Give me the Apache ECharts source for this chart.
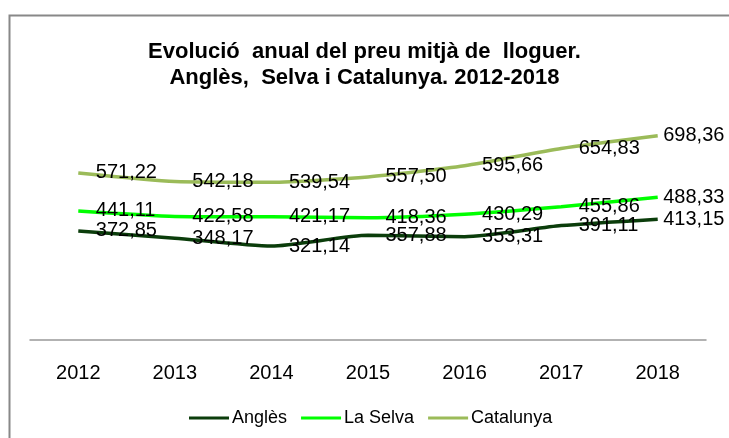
<!DOCTYPE html>
<html>
<head>
<meta charset="utf-8">
<script src="https://cdn.jsdelivr.net/npm/echarts@6/dist/echarts.min.js"></script>
<style>
html,body{margin:0;padding:0;background:#fff;}
#chart{width:729px;height:438px;}
</style>
</head>
<body>
<div id="chart"></div>
<script>
// anys (eix x)
var anys = ['2012', '2013', '2014', '2015', '2016', '2017', '2018'];
// preu mitjà del lloguer
var noms = ['Anglès', 'La Selva', 'Catalunya'];
var angles = [372.85, 348.17, 321.14, 357.88, 353.31, 391.11, 413.15];
var laSelva = [441.11, 422.58, 421.17, 418.36, 430.29, 455.86, 488.33];
var catalunya = [571.22, 542.18, 539.54, 557.50, 595.66, 654.83, 698.36];

var colors = ['#0b3d0b', '#00ff00', '#9bbb59'];

function fmt(v) {
	return v.toFixed(2).replace('.', ',');
}

// l'etiqueta del darrer any va més a prop del punt
function buildData(arr) {
	var res = [];
	for (var i = 0; i < arr.length; i++) {
		if (i == arr.length - 1) {
			res.push({value: arr[i], label: {distance: 5}});
		} else {
			res.push(arr[i]);
		}
	}
	return res;
}

function Serie(nom, arr, color) {
	this.name = nom;
	this.type = 'line';
	this.data = buildData(arr);
	this.smooth = 0.2;
	this.symbol = 'circle';
	this.symbolSize = 1;
	this.color = color;
	this.itemStyle = {color: 'rgba(0,0,0,0)'};
	this.lineStyle = {width: 3.5, color: color};
	this.label = {
		show: true,
		position: 'right',
		distance: 17,
		color: '#000',
		fontFamily: 'Liberation Sans, Arial, sans-serif',
		fontSize: 20,
		formatter: function(p) { return fmt(p.value); }
	};
}

var legendData = [];
for (var i = 0; i < noms.length; i++) {
	legendData.push({name: noms[i], itemStyle: {color: colors[i]}});
}

var myChart = echarts.init(document.getElementById('chart'));
var option = {
	animation: false,
	backgroundColor: '#fff',
	title: {
		text: 'Evolució  anual del preu mitjà de  lloguer.\nAnglès,  Selva i Catalunya. 2012-2018',
		left: 'center',
		top: 34,
		textStyle: {
			fontFamily: 'Liberation Sans, Arial, sans-serif',
			fontSize: 22,
			fontWeight: 'bold',
			color: '#000',
			lineHeight: 26
		}
	},
	graphic: [{
		type: 'rect',
		left: 7,
		top: 13,
		shape: {width: 740, height: 440},
		style: {fill: 'none', stroke: '#888', lineWidth: 2}
	}],
	legend: {
		data: legendData,
		bottom: 6,
		left: 184,
		icon: 'rect',
		itemWidth: 40,
		itemHeight: 3,
		itemGap: 14,
		textStyle: {
			fontFamily: 'Liberation Sans, Arial, sans-serif',
			fontSize: 18,
			color: '#000',
			padding: [0, 0, 0, -2]
		}
	},
	grid: {
		left: 30,
		right: 23,
		top: 106,
		bottom: 98
	},
	xAxis: {
		type: 'category',
		data: anys,
		boundaryGap: true,
		axisLine: {lineStyle: {color: '#999', width: 1.5}},
		axisTick: {show: false},
		axisLabel: {
			margin: 23,
			color: '#000',
			fontFamily: 'Liberation Sans, Arial, sans-serif',
			fontSize: 20
		}
	},
	yAxis: {
		type: 'value',
		min: 0,
		max: 800,
		show: false,
		splitLine: {show: false}
	},
	series: [
		new Serie(noms[0], angles, colors[0]),
		new Serie(noms[1], laSelva, colors[1]),
		new Serie(noms[2], catalunya, colors[2])
	]
};
myChart.setOption(option);
</script>
</body>
</html>
